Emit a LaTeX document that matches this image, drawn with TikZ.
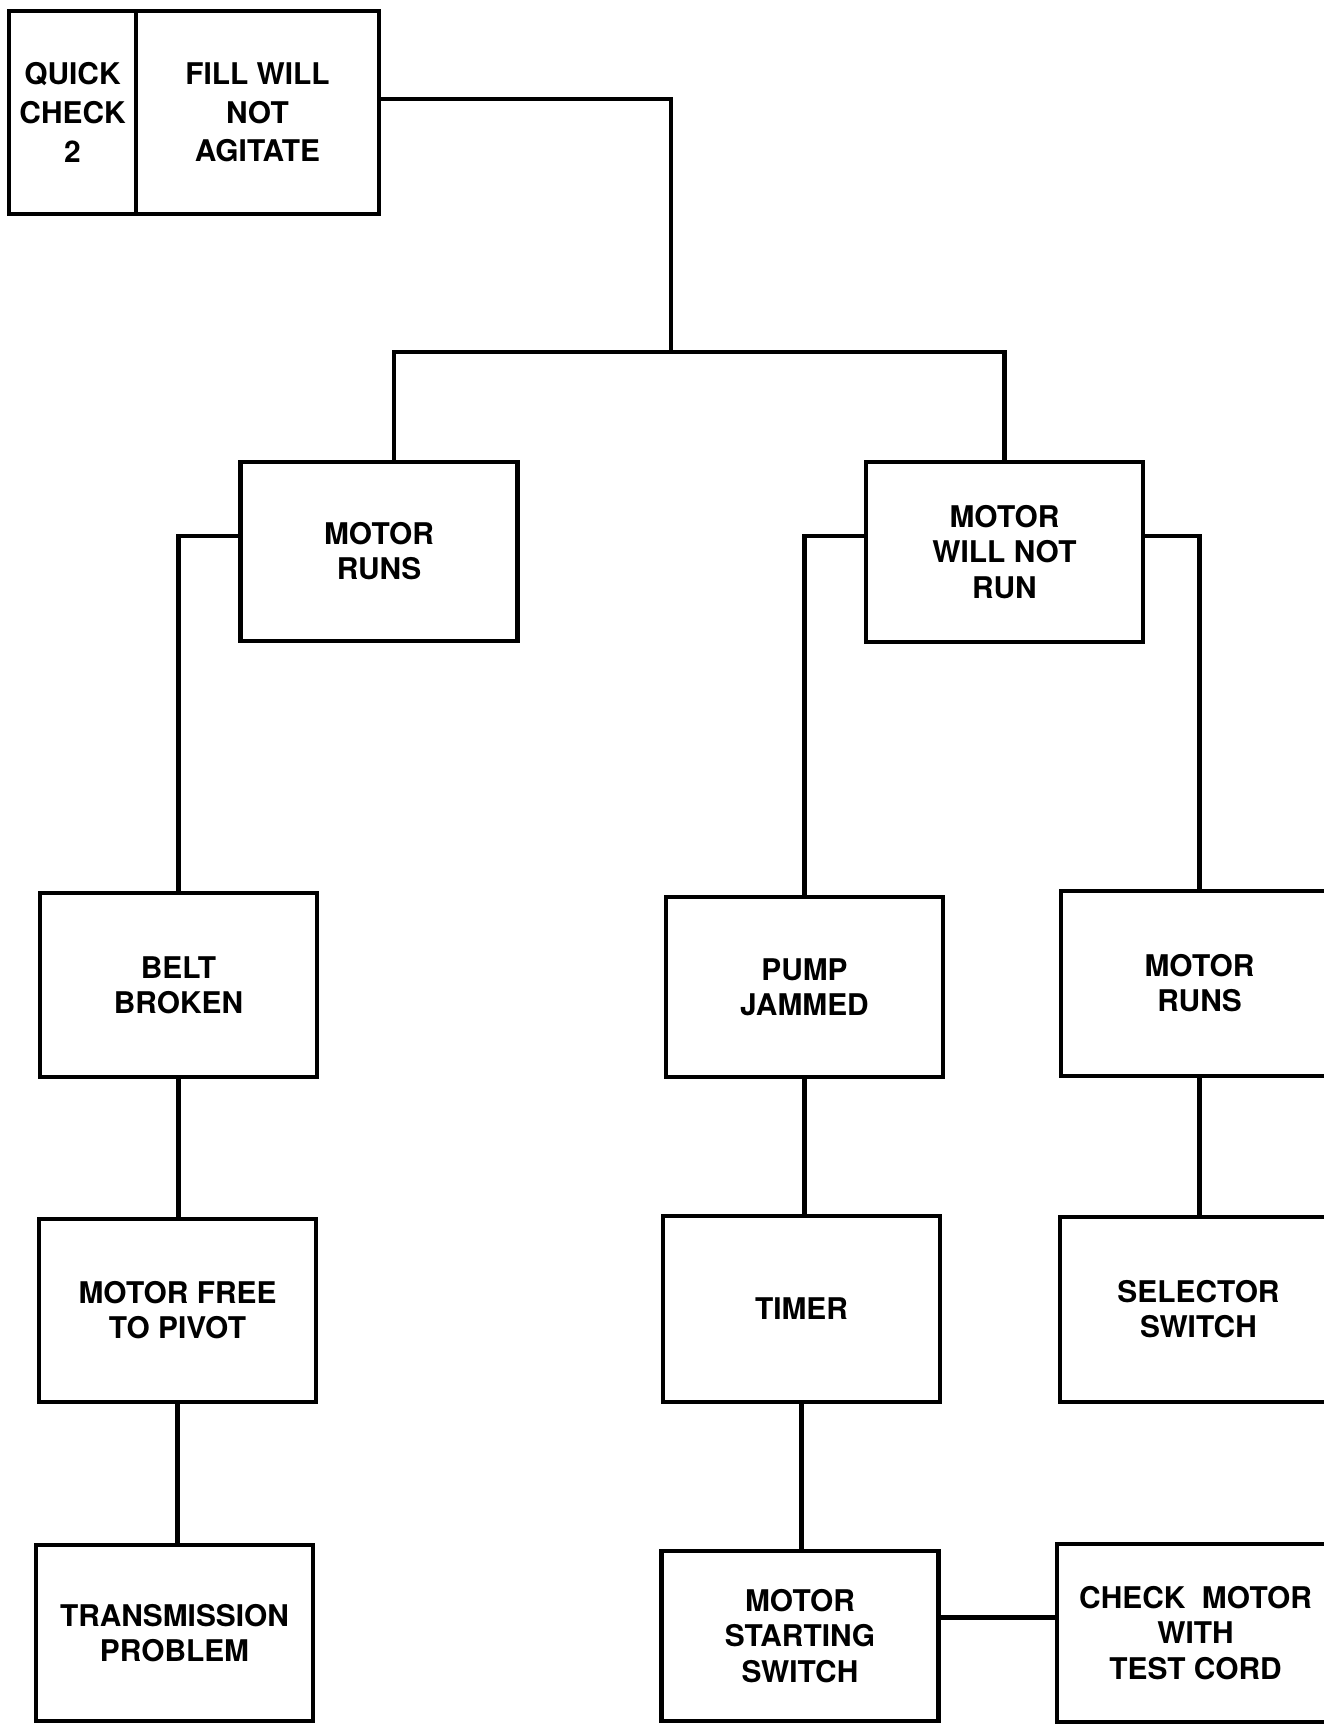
\documentclass[tikz,border=0pt]{standalone}
\usepackage{fontspec}
\setmainfont{TeX Gyre Heros}

\begin{document}
\begin{tikzpicture}[x=0.02cm, y=-0.02cm, line width=2.6pt,
  every node/.style={font=\bfseries\fontsize{17}{20}\selectfont, align=center, inner sep=0pt},
  box/.style={draw, minimum width=5.54cm, minimum height=#1},
  box/.default=3.6cm]
  \path[use as bounding box, fill=white] (0,0) rectangle (1323,1725);
  \node[box=4.06cm, minimum width=2.54cm, font=\bfseries\fontsize{17}{22}\selectfont] (quick) at (72.5,112.5) {QUICK\\CHECK\\2};
  \node[box=4.06cm, minimum width=4.86cm, font=\bfseries\fontsize{17}{22}\selectfont] (head) at (257.5,112.5) {FILL WILL\\NOT\\AGITATE};
  \foreach \n/\x/\y/\h/\txt in {
      runsa/379/551.5/3.58cm/{MOTOR\\RUNS},
      norun/1004.5/552/3.6cm/{MOTOR\\WILL NOT\\RUN},
      belt/178.5/985/3.68cm/{BELT\\BROKEN},
      pump/804.5/987/3.6cm/{PUMP\\JAMMED},
      runsb/1199.5/983.5/3.7cm/{MOTOR\\RUNS},
      pivot/177.5/1310.5/3.66cm/{MOTOR FREE\\TO PIVOT},
      timer/801.5/1309/3.72cm/{TIMER},
      selector/1198.5/1309.5/3.7cm/{SELECTOR\\SWITCH},
      trans/174.5/1633/3.52cm/{TRANSMISSION\\PROBLEM},
      start/800/1636/3.4cm/{MOTOR\\STARTING\\SWITCH},
      check/1195.5/1633/3.56cm/{CHECK\ \ MOTOR\\WITH\\TEST CORD}} {
    \node[box=\h] (\n) at (\x,\y) {\txt};
  }
  \coordinate (split) at (671,352);
  \draw ([yshift=0.27cm]head.east) -| (split);
  \draw ([xshift=0.3cm]runsa.north) |- (split) -| (norun.north);
  \draw ([yshift=0.31cm]runsa.west) -| (belt.north);
  \draw ([yshift=0.32cm]norun.west) -| (pump.north);
  \draw ([yshift=0.32cm]norun.east) -| (runsb.north);
  \foreach \a/\b in {belt/pivot, pivot/trans, pump/timer, timer/start, runsb/selector}
    \draw (\a.south) -- (\a.south |- \b.north);
  \coordinate (link) at ([yshift=0.37cm]start.east);
  \draw (link) -- (link -| check.west);
\end{tikzpicture}
\end{document}
